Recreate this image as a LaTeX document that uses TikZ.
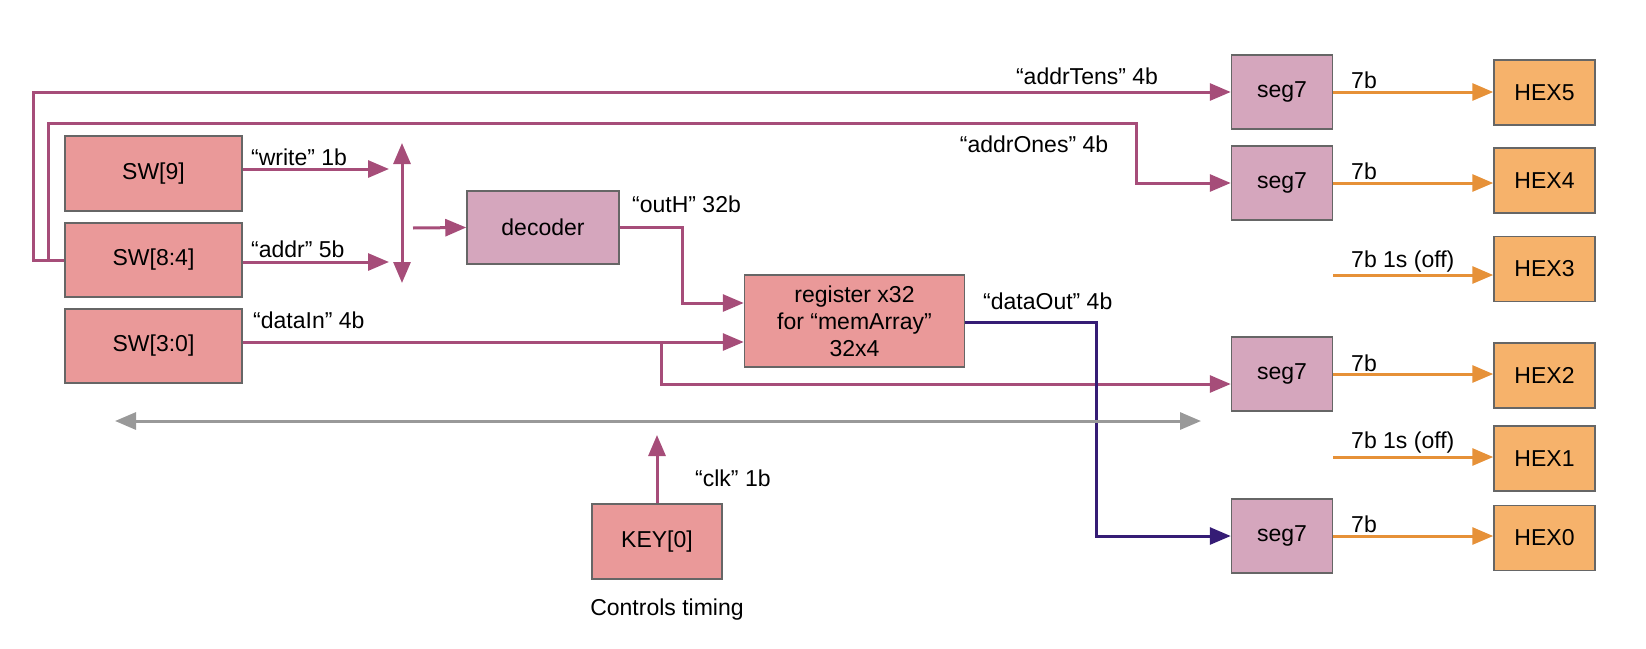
\documentclass[tikz,border=0pt]{standalone}
\usepackage{fontspec}
\setmainfont{Liberation Sans}
\usetikzlibrary{arrows.meta}
\definecolor{mag}{HTML}{A64D79}
\definecolor{purp}{HTML}{351C75}
\definecolor{orl}{HTML}{E69138}
\definecolor{gry}{HTML}{999999}
\definecolor{bord}{HTML}{666666}
\definecolor{pinkf}{HTML}{EA9999}
\definecolor{magf}{HTML}{D5A6BD}
\definecolor{oranf}{HTML}{F6B26B}
\begin{document}
\begin{tikzpicture}[x=1pt,y=-1pt,
  font=\fontsize{23}{27}\selectfont,
  box/.style={draw=bord,line width=1.5pt,inner sep=0pt,align=center},
  pinkbox/.style={box,fill=pinkf},
  magbox/.style={box,fill=magf,minimum width=101pt,minimum height=74pt},
  hexbox/.style={box,fill=oranf,minimum width=101pt,minimum height=65pt},
  tip/.style={-{Triangle[length=21pt,width=17pt]}},
  wire/.style={mag,line width=3pt,tip},
  owire/.style={orl,line width=3pt,tip},
  pwire/.style={purp,line width=3pt,tip},
  lbl/.style={anchor=west,inner sep=0pt},
  clbl/.style={inner sep=0pt}
]
\useasboundingbox (0,0) rectangle (1646,648);

% boxes
\node[pinkbox,minimum width=177pt,minimum height=75pt] (sw9) at (153.5,173.5) {SW[9]};
\node[pinkbox,minimum width=177pt,minimum height=74pt] (sw84) at (153.5,260) {SW[8:4]};
\node[pinkbox,minimum width=177pt,minimum height=74pt] (sw30) at (153.5,346) {SW[3:0]};
\node[box,fill=magf,minimum width=152pt,minimum height=73pt] (dec) at (543,227.5) {decoder};
\node[pinkbox,minimum width=220pt,minimum height=92pt] (reg) at (854.5,321) {register x32\\for “memArray”\\32x4};
\node[pinkbox,minimum width=130pt,minimum height=75pt] (key) at (657,541.5) {KEY[0]};
\node[clbl] (ctl) at (667,610) {Controls timing};

\node[magbox] (s5) at (1282,92) {seg7};
\node[magbox] (s4) at (1282,183) {seg7};
\node[magbox] (s2) at (1282,374) {seg7};
\node[magbox] (s0) at (1282,536) {seg7};

\node[hexbox] (h5) at (1544.5,92.5) {HEX5};
\node[hexbox] (h4) at (1544.5,180.5) {HEX4};
\node[hexbox] (h3) at (1544.5,269) {HEX3};
\node[hexbox] (h2) at (1544.5,375.5) {HEX2};
\node[hexbox] (h1) at (1544.5,458.5) {HEX1};
\node[hexbox] (h0) at (1544.5,538) {HEX0};

% coordinates
\coordinate (we) at (389,169);
\coordinate (ae) at (389,262);
\coordinate (bt) at (402,143);
\coordinate (bb) at (402,283);
\coordinate (ds) at (413,228);
\coordinate (oh) at (682,303);
\coordinate (di) at (661,342);
\coordinate (br) at (661,384);
\coordinate (dov) at (1096,322);
\coordinate (l1) at (33,260);
\coordinate (l1t) at (33,92);
\coordinate (l2) at (48,260);
\coordinate (l2t) at (48,123);
\coordinate (l2r) at (1136,123);
\coordinate (ck) at (657,435);
\coordinate (gl) at (115,421);
\coordinate (gr) at (1201,421);
\coordinate (o3) at (1333,275);
\coordinate (o1) at (1333,457);

% loops
\draw[wire] (sw84.west) -- (l1) -- (l1t) -- (l1t -| s5.west);
\draw[wire] (l2) -- (l2t) -- (l2r) |- (s4.west);

% sw arrows
\draw[wire] (sw9.east |- we) -- (we);
\draw[wire] (sw84.east |- ae) -- (ae);
\draw[mag,line width=3pt,{Triangle[length=21pt,width=17pt]}-{Triangle[length=21pt,width=17pt]}] (bt) -- (bb);
\draw[wire] (ds) -- (dec.west);
\draw[wire] (dec.east) -| (oh) -- (oh -| reg.west);
\draw[wire] (sw30.east |- di) -- (di -| reg.west);
\draw[wire] (di) -- (br) -- (br -| s2.west);
\draw[pwire] (reg.east |- dov) -- (dov) |- (s0.west);
\draw[wire] (key.north) -- (ck);
\draw[gry,line width=3pt,{Triangle[length=21pt,width=17pt]}-{Triangle[length=21pt,width=17pt]}] (gl) -- (gr);

% orange
\draw[owire] (s5.east) -- (s5.east -| h5.west);
\draw[owire] (s4.east) -- (s4.east -| h4.west);
\draw[owire] (o3) -- (o3 -| h3.west);
\draw[owire] (s2.east) -- (s2.east -| h2.west);
\draw[owire] (o1) -- (o1 -| h1.west);
\draw[owire] (s0.east) -- (s0.east -| h0.west);

% labels
\node[lbl] (lw) at (251,157) {“write” 1b};
\node[lbl] (la) at (251,249) {“addr” 5b};
\node[lbl] (lo) at (632,204) {“outH” 32b};
\node[lbl] (ldi) at (253,320) {“dataIn” 4b};
\node[lbl] (ldo) at (983,301) {“dataOut” 4b};
\node[clbl] (lt) at (1087,76) {“addrTens” 4b};
\node[clbl] (lon) at (1034,144) {“addrOnes” 4b};
\node[lbl] (lc) at (695,478) {“clk” 1b};
\node[lbl] (l5) at (1351,80) {7b};
\node[lbl] (l4) at (1351,171) {7b};
\node[lbl] (l3) at (1351,262) {7b 1s (off)};
\node[lbl] (l2b) at (1351,363) {7b};
\node[lbl] (l1b) at (1351,443) {7b 1s (off)};
\node[lbl] (l0) at (1351,524) {7b};
\end{tikzpicture}
\end{document}
